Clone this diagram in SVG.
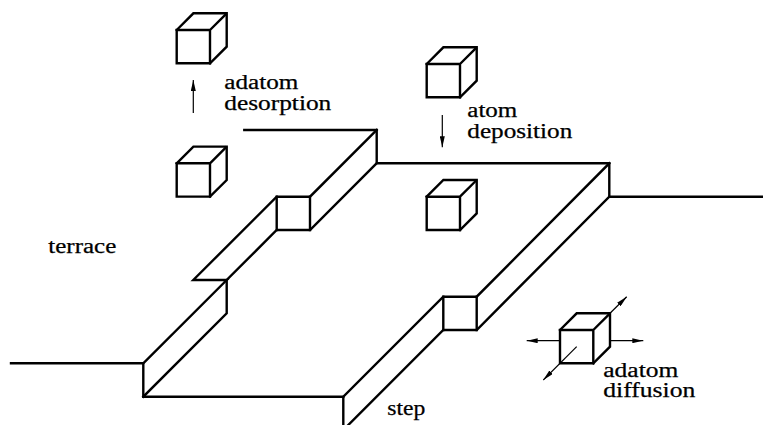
<svg xmlns="http://www.w3.org/2000/svg" xmlns:xlink="http://www.w3.org/1999/xlink" width="763" height="425" viewBox="0 0 763 425">
  <style>
    .edge { fill: none; stroke: #000; stroke-width: 2.4; stroke-linejoin: miter; stroke-linecap: square; }
    .cube { fill: #fff; stroke: #000; stroke-width: 2.4; stroke-linejoin: miter; }
    .arrow { fill: none; stroke: #000; stroke-width: 1.2; marker-end: url(#head); }
    text { font-family: 'Liberation Serif', 'Times New Roman', serif; font-size: 20px; fill: #000; stroke: #000; stroke-width: 0.25; }
  </style>
  <defs>
    <marker id="head" viewBox="0 0 11 5" refX="11" refY="2.5" markerWidth="11" markerHeight="5" markerUnits="userSpaceOnUse" orient="auto">
      <path d="M0,0 L11,2.5 L0,5 Z" fill="#000" stroke="none"/>
    </marker>
    <!-- unit cube: origin at the top-left corner of the front face -->
    <g id="cube-shape">
      <path class="cube" d="M0,0 L16.7,-16.7 H50 V16.7 L33.3,33.3 Z"/>
      <path class="cube" d="M0,0 H33.3 V33.3 H0 Z M33.3,0 L50,-16.7"/>
    </g>
  </defs>

  <!-- terrace and step outlines -->
  <g id="surface">
    <!-- upper terrace rim -->
    <path class="edge" d="M244.3,130 H376.7 V163.3 H609.3 V196.7 H763"/>
    <!-- front step with kink -->
    <path class="edge" d="M609.3,163.3 L476.7,296.7 H443.3 L343.3,396.7 V425"/>
    <path class="edge" d="M609.3,196.7 L476.7,330 H443.3 L348.3,425"/>
    <path class="edge" d="M476.7,296.7 V330 M443.3,296.7 V330"/>
    <!-- back step with kink -->
    <path class="edge" d="M11,363.3 H143.3 L226.7,280 H193.3 L276.7,196.7 H310 L376.7,130"/>
    <path class="edge" d="M143.3,363.3 V396.7 H343.3"/>
    <path class="edge" d="M143.3,396.7 L226.7,313.3 V280 L276.7,230 H310 L376.7,163.3"/>
    <path class="edge" d="M276.7,196.7 V230 M310,196.7 V230"/>
  </g>

  <g id="cube-desorbed"><use xlink:href="#cube-shape" transform="translate(176.7,30)"/></g>
  <g id="cube-adatom"><use xlink:href="#cube-shape" transform="translate(176.7,163.3)"/></g>
  <g id="cube-incoming"><use xlink:href="#cube-shape" transform="translate(426.7,64)"/></g>
  <g id="cube-deposited"><use xlink:href="#cube-shape" transform="translate(426.7,196.7)"/></g>
  <g id="cube-diffusing"><use xlink:href="#cube-shape" transform="translate(560,330)"/></g>

  <!-- process arrows -->
  <g id="connectors">
    <line class="arrow" x1="193.3" y1="113" x2="193.3" y2="80"/>
    <line class="arrow" x1="442.3" y1="115" x2="442.3" y2="147.3"/>
    <line class="arrow" x1="560" y1="340.7" x2="526.7" y2="340.7"/>
    <line class="arrow" x1="610" y1="340.7" x2="643.3" y2="340.7"/>
    <line class="arrow" x1="610" y1="313.3" x2="626.7" y2="296.7"/>
    <line class="arrow" x1="576.7" y1="346.7" x2="543.3" y2="380"/>
  </g>

  <g id="labels">
    <text x="224.3" y="89" textLength="74" lengthAdjust="spacingAndGlyphs">adatom</text>
    <text x="224.3" y="109.5" textLength="107" lengthAdjust="spacingAndGlyphs">desorption</text>
    <text x="467.3" y="117.3" textLength="50" lengthAdjust="spacingAndGlyphs">atom</text>
    <text x="467.3" y="138.3" textLength="105" lengthAdjust="spacingAndGlyphs">deposition</text>
    <text x="48.3" y="253.3" textLength="68" lengthAdjust="spacingAndGlyphs">terrace</text>
    <text x="387.3" y="415" textLength="38" lengthAdjust="spacingAndGlyphs">step</text>
    <text x="603.3" y="376.7" textLength="75" lengthAdjust="spacingAndGlyphs">adatom</text>
    <text x="603.3" y="397.3" textLength="92" lengthAdjust="spacingAndGlyphs">diffusion</text>
  </g>
</svg>
